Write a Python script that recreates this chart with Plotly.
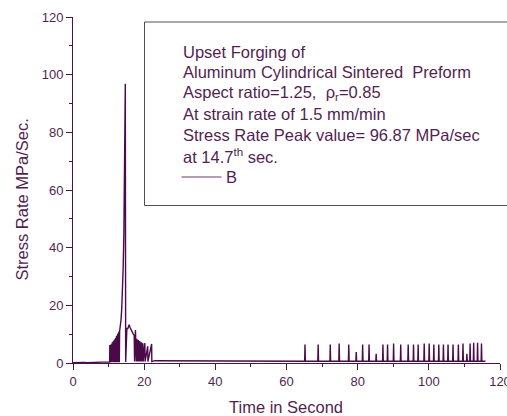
import plotly.graph_objects as go

# ---- data ----
time_s = [
    0, 1, 2, 3, 4, 5, 6, 7, 8, 9, 10, 10.3,
    10.35, 10.4, 10.75, 10.8, 11.0, 11.07, 11.15, 11.22, 11.3, 11.37, 11.45, 11.52,
    11.6, 11.67, 11.75, 11.82, 11.9, 11.97, 12.05, 12.12, 12.2, 12.27, 12.35, 12.42,
    12.5, 12.57, 12.65, 12.72, 12.8, 12.87, 12.95, 13.02,
    13.1, 13.3, 13.5, 13.7, 13.9, 14.1, 14.3, 14.5, 14.7, 14.8,
    14.95, 15.15, 15.35, 15.55, 15.8, 16.0, 16.2, 16.45, 16.7, 16.95, 17.2, 17.3,
    17.55, 17.6, 17.75, 17.8, 17.95, 18.0, 18.15, 18.2, 18.35, 18.4, 18.55, 18.6,
    18.75, 18.8, 18.95, 19.0, 19.15, 19.2, 19.4, 19.45, 19.65, 19.7,
    20.2, 20.25, 21.0, 21.05, 22.1, 22.15, 23.0,
    30, 40, 50, 60,
    65.1, 65.2, 65.3, 68.8, 68.9, 69.0, 72.2, 72.3, 72.4, 74.7, 74.8, 74.9,
    77.4, 77.5, 77.6, 79.5, 79.6, 79.7, 81.3, 81.4, 81.5, 83.1, 83.2, 83.3,
    85.1, 85.2, 85.3, 87.0, 87.1, 87.2, 88.3, 88.4, 88.5, 90.0, 90.1, 90.2,
    92.0, 92.1, 92.2, 94.1, 94.2, 94.3, 95.6, 95.7, 95.8, 96.9, 97.0, 97.1,
    98.6, 98.7, 98.8, 100.0, 100.1, 100.2, 101.3, 101.4, 101.5, 102.7, 102.8, 102.9,
    104.0, 104.1, 104.2, 105.3, 105.4, 105.5, 106.7, 106.8, 106.9, 108.2, 108.3, 108.4,
    109.5, 109.6, 109.7, 110.6, 110.7, 110.8, 111.5, 111.6, 111.7, 112.5, 112.6, 112.7,
    113.6, 113.7, 113.8, 114.7, 114.8, 114.9, 115.9,
]
stress_rate = [
    0.1, 0.2, 0.1, 0.2, 0.1, 0.2, 0.2, 0.2, 0.3, 0.3, 0.3, 0.3,
    6.2, 0.3, 6.5, 0.3, 6.8, 0.3, 7.0, 0.3, 7.3, 0.3, 7.5, 0.3,
    7.8, 0.3, 8.0, 0.3, 8.3, 0.3, 8.6, 0.3, 9.0, 0.3, 9.3, 0.3,
    9.7, 0.3, 10.0, 0.3, 10.3, 0.3, 10.8, 0.3,
    11.0, 12.5, 15.0, 19.0, 25.0, 33.0, 45.0, 65.0, 96.87, 0.4,
    11.0, 12.2, 11.8, 12.6, 13.3, 12.4, 11.8, 11.0, 10.6, 10.0, 9.6, 0.5,
    11.4, 0.5, 8.6, 0.5, 8.4, 0.5, 8.2, 0.5, 8.0, 0.5, 7.8, 0.5,
    7.6, 0.5, 7.4, 0.5, 7.2, 0.5, 7.0, 0.5, 6.8, 0.5,
    6.9, 0.5, 5.8, 0.5, 6.6, 0.5, 0.8,
    0.8, 0.7, 0.8, 0.7,
    0.6, 6.4, 0.6, 0.6, 6.4, 0.6, 0.6, 6.4, 0.6, 0.6, 6.8, 0.6,
    0.6, 6.4, 0.6, 0.6, 3.8, 0.6, 0.6, 6.4, 0.6, 0.6, 6.4, 0.6,
    0.6, 3.2, 0.6, 0.6, 6.4, 0.6, 0.6, 6.4, 0.6, 0.6, 6.8, 0.6,
    0.6, 6.4, 0.6, 0.6, 6.4, 0.6, 0.6, 6.4, 0.6, 0.6, 6.4, 0.6,
    0.6, 6.8, 0.6, 0.6, 6.8, 0.6, 0.6, 6.4, 0.6, 0.6, 6.4, 0.6,
    0.6, 6.4, 0.6, 0.6, 6.4, 0.6, 0.6, 6.4, 0.6, 0.6, 6.4, 0.6,
    0.6, 6.8, 0.6, 0.6, 3.2, 0.6, 0.6, 6.8, 0.6, 0.6, 7.0, 0.6,
    0.6, 7.0, 0.6, 0.6, 6.8, 0.6, 0.6,
]
x_ticks = [0, 20, 40, 60, 80, 100, 120]
y_ticks = [0, 20, 40, 60, 80, 100, 120]
note_lines = [
    "Upset Forging of",
    "Aluminum Cylindrical Sintered\u00a0\u00a0Preform",
    "Aspect ratio=1.25,\u00a0\u00a0\u03c1<sub>r</sub>=0.85",
    "At strain rate of 1.5 mm/min",
    "Stress Rate Peak value= 96.87 MPa/sec",
    "at 14.7<sup>th</sup> sec.",
]
series_name = "B"

# ---- styling ----
W, H = 507, 416
L, R, T, B = 73, 7, 17, 53
PW, PH = W - L - R, H - T - B
LINE_C = "#4a0a4a"
AXIS_C = "#4a1548"
TEXT_C = "#521f52"
FONT = "Arial, Liberation Sans, sans-serif"


def px(xp):
    return (xp - L) / PW


def py(yp):
    return (H - B - yp) / PH


fig = go.Figure()
fig.add_trace(go.Scatter(x=time_s, y=stress_rate, mode="lines",
                         line=dict(color=LINE_C, width=1.4), showlegend=False,
                         name=series_name))

axis_common = dict(
    showline=True, linecolor=AXIS_C, linewidth=1, mirror=False,
    showgrid=False, zeroline=False, ticks="outside", ticklen=6,
    tickcolor=AXIS_C, tickwidth=1, automargin=False,
    tickfont=dict(family=FONT, size=13, color=TEXT_C),
    minor=dict(dtick=10, ticks="outside", ticklen=3, tickcolor=AXIS_C, tickwidth=1),
)
fig.update_xaxes(range=[0, 120], tickvals=x_ticks, ticklabeloverflow="allow", **axis_common)
fig.update_yaxes(range=[0, 120], tickvals=y_ticks, **axis_common)

annotations = []
line_y = [51.7, 72.0, 92.5, 113.5, 135.0, 156.5]
for txt, yy in zip(note_lines, line_y):
    annotations.append(dict(x=px(181), y=py(yy), xref="paper", yref="paper",
                            text=txt, showarrow=False, xanchor="left", yanchor="middle",
                            font=dict(family=FONT, size=16.5, color=TEXT_C)))
annotations.append(dict(x=px(224), y=py(177.5), xref="paper", yref="paper",
                        text=series_name, showarrow=False, xanchor="left", yanchor="middle",
                        font=dict(family=FONT, size=16.5, color=TEXT_C)))
annotations.append(dict(x=px(21.5), y=py(200), xref="paper", yref="paper",
                        text="Stress Rate MPa/Sec.", showarrow=False, textangle=-90,
                        xanchor="center", yanchor="middle",
                        font=dict(family=FONT, size=16.5, color=TEXT_C)))
annotations.append(dict(x=px(286), y=py(406.5), xref="paper", yref="paper",
                        text="Time in Second", showarrow=False,
                        xanchor="center", yanchor="middle",
                        font=dict(family=FONT, size=16.5, color=TEXT_C)))

shapes = [
    dict(type="rect", xref="paper", yref="paper", x0=px(144.5), x1=px(530),
         y0=py(205.5), y1=py(22), line=dict(color="#505050", width=1),
         fillcolor="rgba(0,0,0,0)"),
    dict(type="line", xref="paper", yref="paper", x0=px(181.5), x1=px(221.5),
         y0=py(177), y1=py(177), line=dict(color="#6a3a6a", width=1)),
]

fig.update_layout(
    width=W, height=H, margin=dict(l=L, r=R, t=T, b=B, autoexpand=False),
    paper_bgcolor="white", plot_bgcolor="white",
    annotations=annotations, shapes=shapes, showlegend=False,
)

fig.write_html("out.html", config={"displayModeBar": False},
               post_script="document.body.style.margin='0';document.body.style.overflow='hidden';")
